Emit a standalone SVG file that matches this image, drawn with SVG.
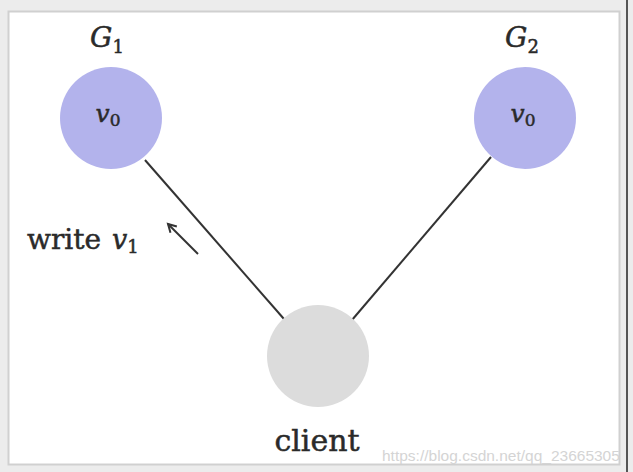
<svg xmlns="http://www.w3.org/2000/svg" width="633" height="472" viewBox="0 0 633 472">
<style>
.lbl{font-family:"DejaVu Serif","Liberation Serif",serif;fill:#2a2a2a;stroke:#2a2a2a;stroke-width:0.5}
.it{font-style:italic}
.edge{stroke:#333;stroke-width:2;fill:none}
.srv{fill:#b3b3ec}
</style>
<defs>
<marker id="ah" markerWidth="12" markerHeight="12" refX="9" refY="6" orient="auto" markerUnits="userSpaceOnUse">
<path d="M1,1.5 L9,6 L1,10.5" fill="none" stroke="#333" stroke-width="2"/>
</marker>
</defs>
<rect x="0" y="0" width="633" height="472" fill="#ececec"/>
<rect x="8.5" y="11.5" width="611" height="453" fill="#ffffff" stroke="#d0d0d0" stroke-width="2"/>
<line x1="627" y1="0" x2="627" y2="472" stroke="#555" stroke-width="2"/>
<g id="connectors">
<line class="edge" x1="145" y1="160" x2="284" y2="319"/>
<line class="edge" x1="491" y1="157" x2="352" y2="320"/>
<line class="edge" x1="198" y1="254" x2="168" y2="224" marker-end="url(#ah)"/>
</g>
<g id="G1">
<circle class="srv" cx="111" cy="118" r="51"/>
<text class="lbl it" x="108" y="122" font-size="25" text-anchor="middle">v<tspan font-size="17" font-style="normal" dy="4">0</tspan></text>
<text class="lbl it" x="107" y="47" font-size="28" text-anchor="middle">G<tspan font-size="18" font-style="normal" dy="6">1</tspan></text>
</g>
<g id="G2">
<circle class="srv" cx="525" cy="118" r="51"/>
<text class="lbl it" x="523" y="122" font-size="25" text-anchor="middle">v<tspan font-size="17" font-style="normal" dy="4">0</tspan></text>
<text class="lbl it" x="522" y="47" font-size="28" text-anchor="middle">G<tspan font-size="18" font-style="normal" dy="6">2</tspan></text>
</g>
<g id="client">
<circle cx="318" cy="356" r="51" fill="#dcdcdc"/>
<text class="lbl" x="317" y="451" font-size="30" text-anchor="middle">client</text>
</g>
<g id="write-label">
<text class="lbl" x="27" y="249" font-size="28">write <tspan font-style="italic" font-size="27" dx="2">v</tspan><tspan font-size="18" dy="4">1</tspan></text>
</g>
<text x="382" y="461" font-family="Liberation Sans,Arial,sans-serif" font-size="15.5" fill="#d4d4d4">https://blog.csdn.net/qq_23665305</text>
</svg>
